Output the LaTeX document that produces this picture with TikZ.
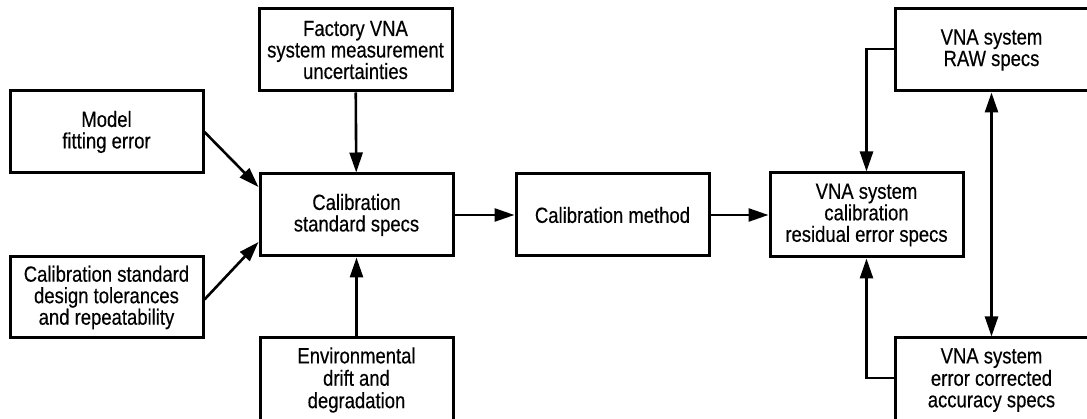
\documentclass[tikz,border=0pt]{standalone}
\usepackage{fontspec}
\setmainfont{Liberation Sans}[FakeStretch=0.84,FakeBold=0.4]
\usetikzlibrary{arrows.meta,calc}
\begin{document}
\begin{tikzpicture}[x=1pt,y=-1pt,
  box/.style={draw,line width=3pt,rectangle,minimum width=193pt,minimum height=82pt,inner sep=0pt,align=center,font=\fontsize{22}{21.5}\selectfont},
  conn/.style={line width=2.6pt,line join=miter,-{Triangle[length=20pt,width=13pt]}},
  conn2/.style={line width=2.6pt,{Triangle[length=20pt,width=13pt]}-{Triangle[length=20pt,width=13pt]}}]
\useasboundingbox (0,0) rectangle (1087,419);
\clip (0,0) rectangle (1087,419);
\node[box] (factory) at (355.5,50) {Factory VNA\\system measurement\\uncertainties};
\node[box] (model) at (106.5,132) {Model\\fitting error};
\node[box] (css) at (356.5,215) {Calibration\\standard specs};
\node[box,minimum height=81pt] (design) at (106.5,297.5) {Calibration standard\\design tolerances\\and repeatability};
\node[box,minimum height=86pt] (env) at (356.5,381) {\raisebox{3pt}{\begin{tabular}{@{}c@{}}Environmental\\drift and\\degradation\end{tabular}}};
\node[box] (cm) at (612.5,215) {Calibration method};
\node[box,minimum height=84pt] (res) at (866.5,215) {VNA system\\calibration\\residual error specs};
\node[box] (raw) at (991.5,50) {VNA system\\RAW specs};
\node[box,minimum height=86pt] (ecc) at (991.5,381) {\raisebox{3pt}{\begin{tabular}{@{}c@{}}VNA system\\error corrected\\accuracy specs\end{tabular}}};
\draw[conn] (factory) -- (css);
\draw[conn] (model.east) -- ([yshift=28pt]css.west);
\draw[conn] ([yshift=-2pt]design.east) -- ([yshift=-27pt]css.west);
\draw[conn] (env) -- (css);
\draw[conn] (css) -- (cm);
\draw[conn] (cm) -- (res);
\draw[conn] (raw.west |- 0,49) -| (res.north);
\draw[conn] (ecc.west |- 0,378) -| (res.south);
\draw[conn2] (raw) -- (ecc);
\end{tikzpicture}
\end{document}
